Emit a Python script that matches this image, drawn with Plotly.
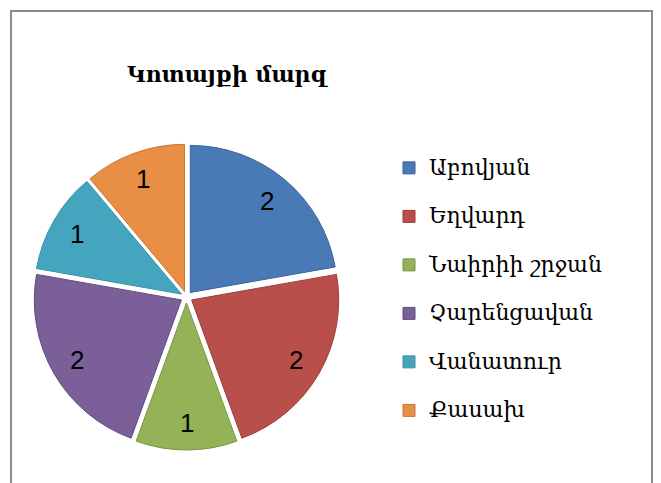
import math
import plotly.graph_objects as go

title_text = "Կոտայքի մարզ"
categories = ["Աբովյան", "Եղվարդ", "Նաիրիի շրջան", "Չարենցավան", "Վանատուր", "Քասախ"]
values = [2, 2, 1, 2, 1, 1]

colors = ["#4A7AB5", "#B94F4B", "#93B356", "#7A5F99", "#46A5BE", "#E98F45"]
edge_colors = ["#3A6296", "#9A3E3B", "#7A9645", "#624A80", "#3890A6", "#C8773A"]

W, H = 661, 483


def px(x):
    return x / W


def py(y):
    return 1 - y / H


# pie domain (pixel box of the pie)
PX0, PX1, PY0, PY1 = 33, 340, 144, 450
CX, CY = (PX0 + PX1) / 2, (PY0 + PY1) / 2
HALF = (PX1 - PX0) / 2

fig = go.Figure(go.Pie(
    labels=[f'<span style="font-size:22px">{c}</span><br> ' for c in categories],
    values=values,
    sort=False,
    direction="clockwise",
    rotation=0,
    pull=0.04,
    textinfo="none",
    marker=dict(colors=colors, line=dict(color=edge_colors, width=1)),
    domain=dict(x=[px(PX0), px(PX1)], y=[py(PY1), py(PY0)]),
    hoverinfo="label+value",
))

# value labels placed along each slice's mid-angle
annotations = []
total = sum(values)
cum = 0
for v in values:
    mid = (cum + v / 2) / total * 2 * math.pi
    cum += v
    d = 0.82 * HALF
    annotations.append(dict(
        text=str(v), x=px(CX + d * math.sin(mid)), y=py(CY - d * math.cos(mid)),
        xref="paper", yref="paper", xanchor="center", yanchor="middle",
        showarrow=False, font=dict(family="Liberation Sans", size=26, color="black"),
    ))

annotations.append(dict(
    text=f"<b>{title_text}</b>", x=px(228), y=py(74), xref="paper", yref="paper",
    xanchor="center", yanchor="middle", showarrow=False,
    font=dict(family="DejaVu Serif", size=22, color="black"),
))

fig.update_layout(
    width=W, height=H,
    margin=dict(l=0, r=0, t=0, b=0),
    paper_bgcolor="white",
    plot_bgcolor="white",
    showlegend=True,
    legend=dict(
        x=px(389), y=py(150), xanchor="left", yanchor="top",
        font=dict(family="DejaVu Serif", size=17.5, color="black"),
        valign="top",
        itemwidth=30,
        bgcolor="rgba(0,0,0,0)",
    ),
    annotations=annotations,
    shapes=[dict(
        type="rect", xref="paper", yref="paper",
        x0=px(11), x1=px(652), y0=-0.2, y1=py(11),
        line=dict(color="#8C8C8C", width=2), fillcolor="rgba(0,0,0,0)",
    )],
)

fig.write_html("out.html", config={"displayModeBar": False},
               post_script="document.body.style.margin='0';")
